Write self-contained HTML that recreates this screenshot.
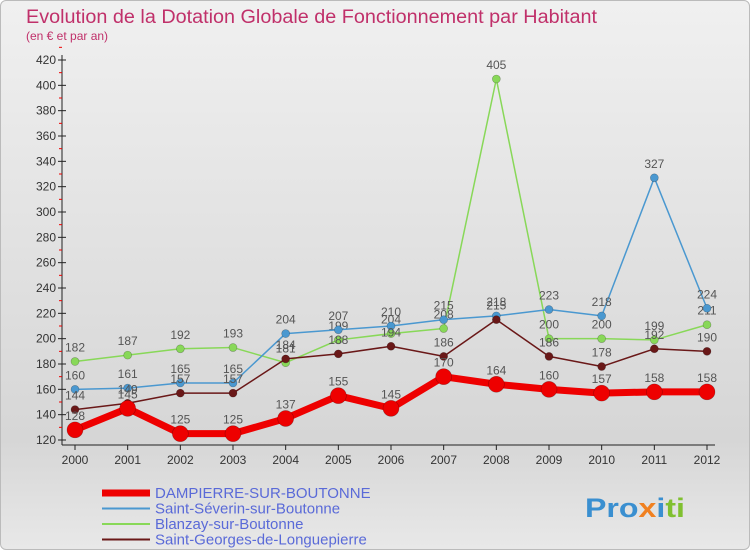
<!DOCTYPE html>
<html><head><meta charset="utf-8"><style>
body{margin:0;width:750px;height:550px;overflow:hidden;font-family:"Liberation Sans",sans-serif}
#wrap{position:absolute;left:0;top:0;width:748px;height:548px;border:1px solid #bbb;border-radius:6px;background:linear-gradient(#f0f0f0,#d6d6d6 80%,#e8e8e8)}
</style></head><body>
<div id="wrap"></div>
<svg id="c" width="750" height="550" style="position:absolute;left:0;top:0">
<text x="26" y="23" font-size="19" fill="#c0306a" textLength="571" lengthAdjust="spacingAndGlyphs">Evolution de la Dotation Globale de Fonctionnement par Habitant</text>
<text x="26" y="40" font-size="12" fill="#c0306a">(en € et par an)</text>
<g id="axes"></g><g id="series"></g><g id="legend"></g>
<text x="585" y="517" font-size="27" font-weight="bold" fill="#3a8fd0" textLength="100" lengthAdjust="spacingAndGlyphs">Pro<tspan fill="#f08020">x</tspan><tspan fill="#3a8fd0">i</tspan><tspan fill="#80c030">ti</tspan></text>
</svg>
<script>
const years=[2000,2001,2002,2003,2004,2005,2006,2007,2008,2009,2010,2011,2012];
const dampierre=[128,145,125,125,137,155,145,170,164,160,157,158,158];
const severin=[160,161,165,165,204,207,210,215,218,223,218,327,224];
const blanzay=[182,187,192,193,181,199,204,208,405,200,200,199,211];
const georges=[144,149,157,157,184,188,194,186,215,186,178,192,190];
const yTicks=[120,140,160,180,200,220,240,260,280,300,320,340,360,380,400,420];
const names=["DAMPIERRE-SUR-BOUTONNE","Saint-Séverin-sur-Boutonne","Blanzay-sur-Boutonne","Saint-Georges-de-Longuepierre"];
const NS="http://www.w3.org/2000/svg";
const X=i=>75+i*(707-75)/(years.length-1);
const Y=v=>440-(v-120)*(380/300);
function mk(t,a,p){const e=document.createElementNS(NS,t);for(const k in a)e.setAttribute(k,a[k]);p.appendChild(e);return e;}
const ax=document.getElementById('axes');
const yl=mk('line',{x1:62,y1:55,x2:62,y2:445,stroke:'#222'},ax);


const xl=mk('line',{x1:62,y1:445,x2:715,y2:445,stroke:'#222'},ax);


yTicks.forEach(v=>{
 mk('line',{x1:58,y1:Y(v),x2:66,y2:Y(v),stroke:'#222'},ax);
 mk('line',{x1:59,y1:Y(v+10),x2:62,y2:Y(v+10),stroke:'#e00'},ax);
 const t=mk('text',{x:56,y:Y(v)+4,'font-size':12,'text-anchor':'end',fill:'#333'},ax);t.textContent=v;
 
 
});
years.forEach((y,i)=>{
 mk('line',{x1:X(i),y1:445,x2:X(i),y2:450,stroke:'#222'},ax);
 const t=mk('text',{x:X(i),y:464,'font-size':12,'text-anchor':'middle',fill:'#333'},ax);t.textContent=y;
 
 
});
const sg=document.getElementById('series');
function series(d,col,w,r,name){
 const g=mk('g',{},sg);
 
 
 mk('polyline',{points:d.map((v,i)=>X(i)+','+Y(v)).join(' '),fill:'none',stroke:col,'stroke-width':w,'stroke-linejoin':'round'},g);
 d.forEach((v,i)=>{
  const c=mk('circle',{cx:X(i),cy:Y(v),r:r,fill:col,stroke:'rgba(0,0,0,0.3)','stroke-width':0.6},g);
  
  
  const t=mk('text',{x:X(i),y:Y(v)-10,'font-size':12,'text-anchor':'middle',fill:'#555'},g);t.textContent=v;
  
  
 });
}
series(blanzay,'#88d858',1.5,4,'series-blanzay');
series(severin,'#4a98d0',1.5,4,'series-saint-severin');
series(georges,'#6a1818',1.5,4,'series-saint-georges');
series(dampierre,'#ee0000',7,8,'series-dampierre');
const lg=document.getElementById('legend');
const cols=['#ee0000','#4a98d0','#88d858','#6a1818'];
names.forEach((n,i)=>{
 const y=493+i*15.5;
 const g=mk('g',{},lg);
 
 
 mk('line',{x1:102,y1:y,x2:150,y2:y,stroke:cols[i],'stroke-width':i==0?7:2},g);
 const t=mk('text',{x:155,y:y+5,'font-size':15,fill:'#5a6ad8'},g);t.textContent=n;
});
</script>
</body></html>
